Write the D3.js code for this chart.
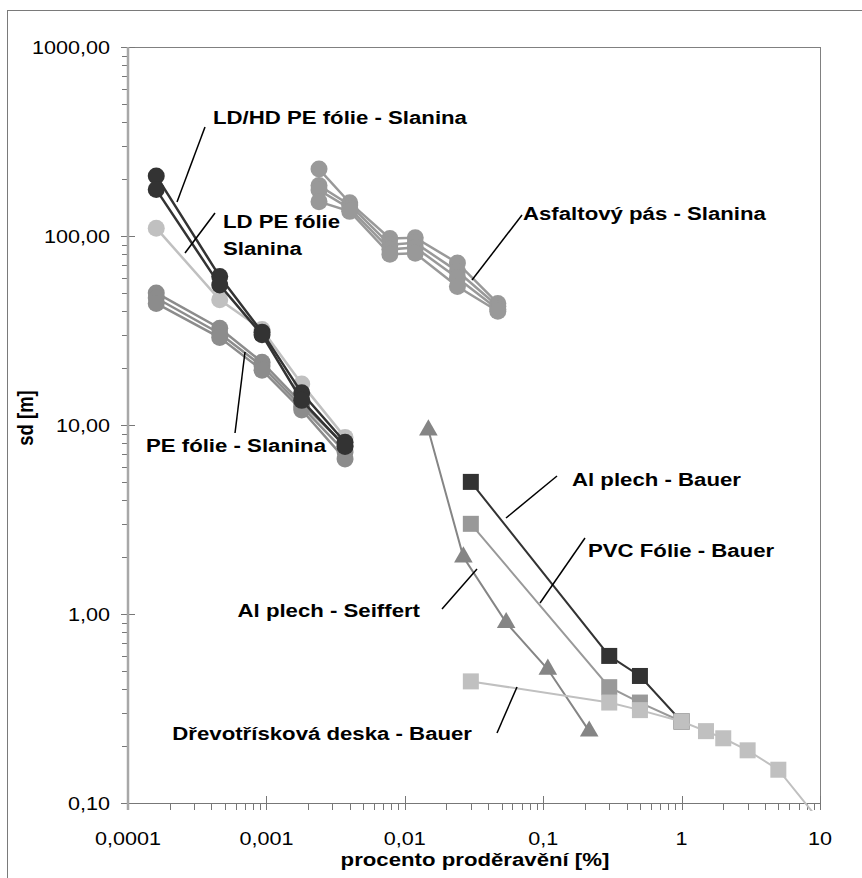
<!DOCTYPE html>
<html><head><meta charset="utf-8">
<script src="https://cdn.jsdelivr.net/npm/d3@7"></script>
<style>html,body{margin:0;padding:0;background:#fff;}svg{display:block;}</style>
</head><body>
<script>
// ---- data ----
const yTickLabels = ["0,10", "1,00", "10,00", "100,00", "1000,00"];
const yTickValues = [0.1, 1, 10, 100, 1000];
const xTickLabels = ["0,0001", "0,001", "0,01", "0,1", "1", "10"];
const xTickValues = [0.0001, 0.001, 0.01, 0.1, 1, 10];

const xSlanina = [0.00016, 0.00046, 0.00093, 0.0018, 0.0037];
const peFolie1 = [50, 32.5, 21.5, 13, 7.8];
const peFolie2 = [47, 30.5, 20.5, 12.5, 7.2];
const peFolie3 = [44, 29, 19.5, 12, 6.6];
const ldPe = [110, 46, 32, 16.5, 8.6];
const ldhdPe1 = [208, 61, 31, 14.8, 8.1];
const ldhdPe2 = [176, 55, 30, 13.5, 7.7];

const xAsfalt = [0.0024, 0.0040, 0.0078, 0.0119, 0.024, 0.047];
const asfalt1 = [226, 150, 97, 98, 72, 44];
const asfalt2 = [185, 146, 90, 92, 65, 42.5];
const asfalt3 = [175, 140, 85, 87, 60, 41];
const asfalt4 = [152, 135, 80, 81, 54, 40];

const xBauer = [0.03, 0.3, 0.5, 1];
const alBauer = [5.0, 0.6, 0.47, 0.27];
const pvcBauer = [3.0, 0.41, 0.34, 0.27];

const xSeiffert = [0.0148, 0.0265, 0.054, 0.108, 0.215];
const alSeiffert = [9.4, 2.0, 0.9, 0.51, 0.24];

const xDrevo = [0.03, 0.3, 0.5, 1, 1.5, 2, 3, 5, 10];
const drevoBauer = [0.44, 0.34, 0.31, 0.27, 0.24, 0.22, 0.19, 0.15, 0.08];

const labels = [
  {t: "LD/HD PE fólie - Slanina", x: 213, y: 124, a: "start", line: [205,127,177,202]},
  {t: "LD PE fólie", x: 223, y: 228, a: "start", line: [215,213,185,253]},
  {t: "Slanina", x: 223, y: 255, a: "start"},
  {t: "Asfaltový pás - Slanina", x: 523, y: 220, a: "start", line: [522,215,472,280]},
  {t: "PE fólie - Slanina", x: 326, y: 452, a: "end", line: [245,352,235,433]},
  {t: "Al plech - Bauer", x: 572, y: 486, a: "start", line: [557,476,506,518]},
  {t: "PVC Fólie - Bauer", x: 588, y: 557, a: "start", line: [585,538,540,603]},
  {t: "Al plech - Seiffert", x: 420, y: 617, a: "end", line: [477,569,442,609]},
  {t: "Dřevotřísková deska - Bauer", x: 472, y: 740, a: "end", line: [517,687,497,733]}
];

// ---- setup ----
const W = 862, H = 878;
const L = 128, R = 820, T = 47, B = 803;
const SX = 1.2;
const svg = d3.select("body").append("svg").attr("width", W).attr("height", H);
svg.append("rect").attr("x", 7.5).attr("y", 10.5).attr("width", 860).attr("height", 880)
  .attr("fill", "#fff").attr("stroke", "#7a7a7a").attr("stroke-width", 1);

const xs = d3.scaleLog().domain([1e-4, 10]).range([L, R]);
const ys = d3.scaleLog().domain([0.1, 1000]).range([B, T]);

function stretchedText(g, x, y, s, anchor, size, weight) {
  return g.append("text")
    .attr("transform", `translate(${x},${y}) scale(${SX},1)`)
    .attr("text-anchor", anchor)
    .attr("font-family", "'Liberation Sans', Arial, sans-serif")
    .attr("font-size", size).attr("font-weight", weight || "normal")
    .attr("fill", "#000").text(s);
}

// plot frame: top and right
svg.append("line").attr("x1", L).attr("x2", R).attr("y1", T + 0.5).attr("y2", T + 0.5).attr("stroke", "#808080");
svg.append("line").attr("x1", R + 0.5).attr("x2", R + 0.5).attr("y1", T).attr("y2", B).attr("stroke", "#808080");

// minor ticks
const minors = [];
for (let e = -4; e < 1; e++) for (let m = 2; m <= 9; m++) minors.push(m * Math.pow(10, e));
const yMinors = [];
for (let e = -1; e < 3; e++) for (let m = 2; m <= 9; m++) yMinors.push(m * Math.pow(10, e));

const axG = svg.append("g");
// x axis line
axG.append("line").attr("x1", L - 7).attr("x2", R).attr("y1", B + 0.5).attr("y2", B + 0.5).attr("stroke", "#777");
axG.selectAll(".xmin").data(minors).enter().append("line")
  .attr("x1", d => Math.round(xs(d)) + 0.5).attr("x2", d => Math.round(xs(d)) + 0.5)
  .attr("y1", B).attr("y2", B + 7).attr("stroke", "#777");
axG.selectAll(".xmaj").data(xTickValues).enter().append("line")
  .attr("x1", d => Math.round(xs(d)) + 0.5).attr("x2", d => Math.round(xs(d)) + 0.5)
  .attr("y1", B - 7).attr("y2", B + 7).attr("stroke", "#777");
// y axis
axG.selectAll(".ymin").data(yMinors).enter().append("line")
  .attr("y1", d => Math.round(ys(d)) + 0.5).attr("y2", d => Math.round(ys(d)) + 0.5)
  .attr("x1", L - 6).attr("x2", L).attr("stroke", "#777");
axG.selectAll(".ymaj").data(yTickValues).enter().append("line")
  .attr("y1", d => Math.round(ys(d)) + 0.5).attr("y2", d => Math.round(ys(d)) + 0.5)
  .attr("x1", L - 7).attr("x2", L + 7).attr("stroke", "#777");
axG.append("line").attr("x1", L).attr("x2", L).attr("y1", T).attr("y2", B + 7)
  .attr("stroke", "#a8a8a8").attr("stroke-width", 2.5);

// tick labels
yTickValues.forEach((v, i) => stretchedText(svg, 110, ys(v) + 6.5, yTickLabels[i], "end", 18, "normal"));
xTickValues.forEach((v, i) => stretchedText(svg, xs(v), 845, xTickLabels[i], "middle", 18, "normal"));

// axis titles
stretchedText(svg, 475, 866, "procento proděravění [%]", "middle", 18.5, "bold");
svg.append("text")
  .attr("transform", `translate(33,418) scale(${SX},1) rotate(-90)`)
  .attr("text-anchor", "middle")
  .attr("font-family", "'Liberation Sans', Arial, sans-serif")
  .attr("font-size", 18.5).attr("font-weight", "bold").text("sd [m]");

// clip
svg.append("clipPath").attr("id", "clip").append("rect")
  .attr("x", L - 20).attr("y", T - 20).attr("width", R - L + 20).attr("height", B - T + 28);
const plot = svg.append("g").attr("clip-path", "url(#clip)");

const line = d3.line().x(d => xs(d[0])).y(d => ys(d[1]));

function series(xv, yv, color, shape, lw) {
  const pts = xv.map((x, i) => [x, yv[i]]);
  const g = plot.append("g");
  g.append("path").attr("d", line(pts)).attr("fill", "none").attr("stroke", color).attr("stroke-width", lw);
  if (shape === "circle") {
    g.selectAll("circle").data(pts).enter().append("circle")
      .attr("cx", d => xs(d[0])).attr("cy", d => ys(d[1])).attr("r", 8.5).attr("fill", color);
  } else if (shape === "square") {
    g.selectAll("rect").data(pts).enter().append("rect")
      .attr("x", d => xs(d[0]) - 8).attr("y", d => ys(d[1]) - 8).attr("width", 16).attr("height", 16).attr("fill", color);
  } else {
    const tri = d3.symbol().type(d3.symbolTriangle).size(150);
    g.selectAll("path.m").data(pts).enter().append("path").attr("class", "m")
      .attr("transform", d => `translate(${xs(d[0])},${ys(d[1])})`).attr("d", tri).attr("fill", color);
  }
}

series(xSlanina, peFolie1, "#8c8c8c", "circle", 2.5);
series(xSlanina, peFolie2, "#8c8c8c", "circle", 2.5);
series(xSlanina, peFolie3, "#8c8c8c", "circle", 2.5);
series(xSlanina, ldPe, "#c0c0c0", "circle", 2.5);
series(xSlanina, ldhdPe1, "#333333", "circle", 2.5);
series(xSlanina, ldhdPe2, "#333333", "circle", 2.5);
series(xAsfalt, asfalt1, "#999999", "circle", 2.5);
series(xAsfalt, asfalt2, "#999999", "circle", 2.5);
series(xAsfalt, asfalt3, "#999999", "circle", 2.5);
series(xAsfalt, asfalt4, "#999999", "circle", 2.5);
series(xBauer, alBauer, "#333333", "square", 2);
series(xBauer, pvcBauer, "#999999", "square", 2);
series(xSeiffert, alSeiffert, "#858585", "triangle", 2);
series(xDrevo, drevoBauer, "#c0c0c0", "square", 2);

// annotations
labels.forEach(l => {
  if (l.line) svg.append("line").attr("x1", l.line[0]).attr("y1", l.line[1]).attr("x2", l.line[2]).attr("y2", l.line[3])
    .attr("stroke", "#000").attr("stroke-width", 1.5);
  stretchedText(svg, l.x, l.y, l.t, l.a, 18.5, "bold");
});
</script>
</body></html>
